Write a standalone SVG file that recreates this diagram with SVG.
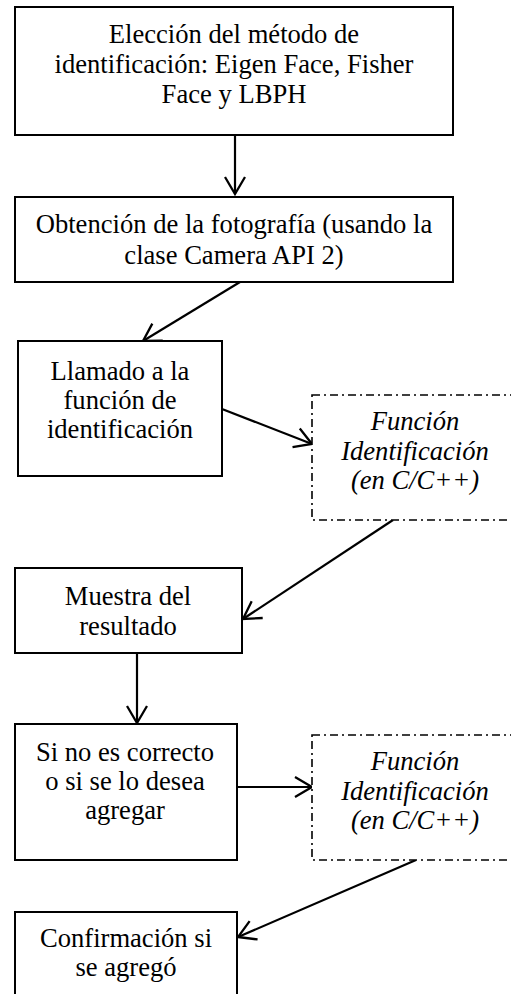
<svg xmlns="http://www.w3.org/2000/svg" width="511" height="994" viewBox="0 0 511 994">
<defs>
<style>
.box{fill:#fff;stroke:#000;stroke-width:2}
.dbox{fill:#fff;stroke:#000;stroke-width:1.6;stroke-dasharray:8 4 2 4}
.t{font-size:26.6px;fill:#000;text-anchor:middle}
.i{font-style:italic}
.c{stroke:#000;stroke-width:2.2;fill:none}
</style>
<marker id="ah" markerUnits="userSpaceOnUse" markerWidth="24" markerHeight="24" viewBox="-19 -12 21 24" refX="0" refY="0" orient="auto">
<path d="M-17,-10 L0,0 L-17,10" fill="none" stroke="#000" stroke-width="2.3"/>
</marker>
</defs>
<rect width="511" height="994" fill="#fff"/>
<g id="connectors">
<line class="c" x1="235" y1="135" x2="235" y2="194" marker-end="url(#ah)"/>
<line class="c" x1="240" y1="282" x2="143" y2="341" marker-end="url(#ah)"/>
<line class="c" x1="222" y1="409" x2="312" y2="444" marker-end="url(#ah)"/>
<line class="c" x1="393" y1="520" x2="243" y2="619" marker-end="url(#ah)"/>
<line class="c" x1="137" y1="653" x2="137" y2="723" marker-end="url(#ah)"/>
<line class="c" x1="237" y1="787" x2="312" y2="787" marker-end="url(#ah)"/>
<line class="c" x1="416" y1="860" x2="238" y2="937" marker-end="url(#ah)"/>
</g>
<g font-family="Liberation Serif, serif">
<g id="n1">
<rect class="box" x="15" y="7" width="438" height="128"/>
<text class="t" x="234" y="43">Elección del método de</text>
<text class="t" x="234" y="73">identificación: Eigen Face, Fisher</text>
<text class="t" x="234" y="103">Face y LBPH</text>
</g>
<g id="n2">
<rect class="box" x="15" y="197" width="438" height="85"/>
<text class="t" x="234" y="233">Obtención de la fotografía (usando la</text>
<text class="t" x="234" y="264">clase Camera API 2)</text>
</g>
<g id="n3">
<rect class="box" x="18" y="341" width="204" height="135"/>
<text class="t" x="120" y="380">Llamado a la</text>
<text class="t" x="120" y="409">función de</text>
<text class="t" x="120" y="438">identificación</text>
</g>
<g id="n4">
<rect class="dbox" x="312" y="395" width="206" height="125"/>
<text class="t i" x="415" y="430">Función</text>
<text class="t i" x="415" y="460">Identificación</text>
<text class="t i" x="415" y="489">(en C/C++)</text>
</g>
<g id="n5">
<rect class="box" x="15" y="568" width="227" height="85"/>
<text class="t" x="128" y="605">Muestra del</text>
<text class="t" x="128" y="635">resultado</text>
</g>
<g id="n6">
<rect class="box" x="15" y="724" width="222" height="136"/>
<text class="t" x="125" y="761">Si no es correcto</text>
<text class="t" x="125" y="790">o si se lo desea</text>
<text class="t" x="125" y="819">agregar</text>
</g>
<g id="n7">
<rect class="dbox" x="312" y="735" width="206" height="125"/>
<text class="t i" x="415" y="770">Función</text>
<text class="t i" x="415" y="800">Identificación</text>
<text class="t i" x="415" y="829">(en C/C++)</text>
</g>
<g id="n8">
<rect class="box" x="15" y="912" width="222" height="100"/>
<text class="t" x="126" y="947">Confirmación si</text>
<text class="t" x="126" y="976">se agregó</text>
</g>
</g>
</svg>
